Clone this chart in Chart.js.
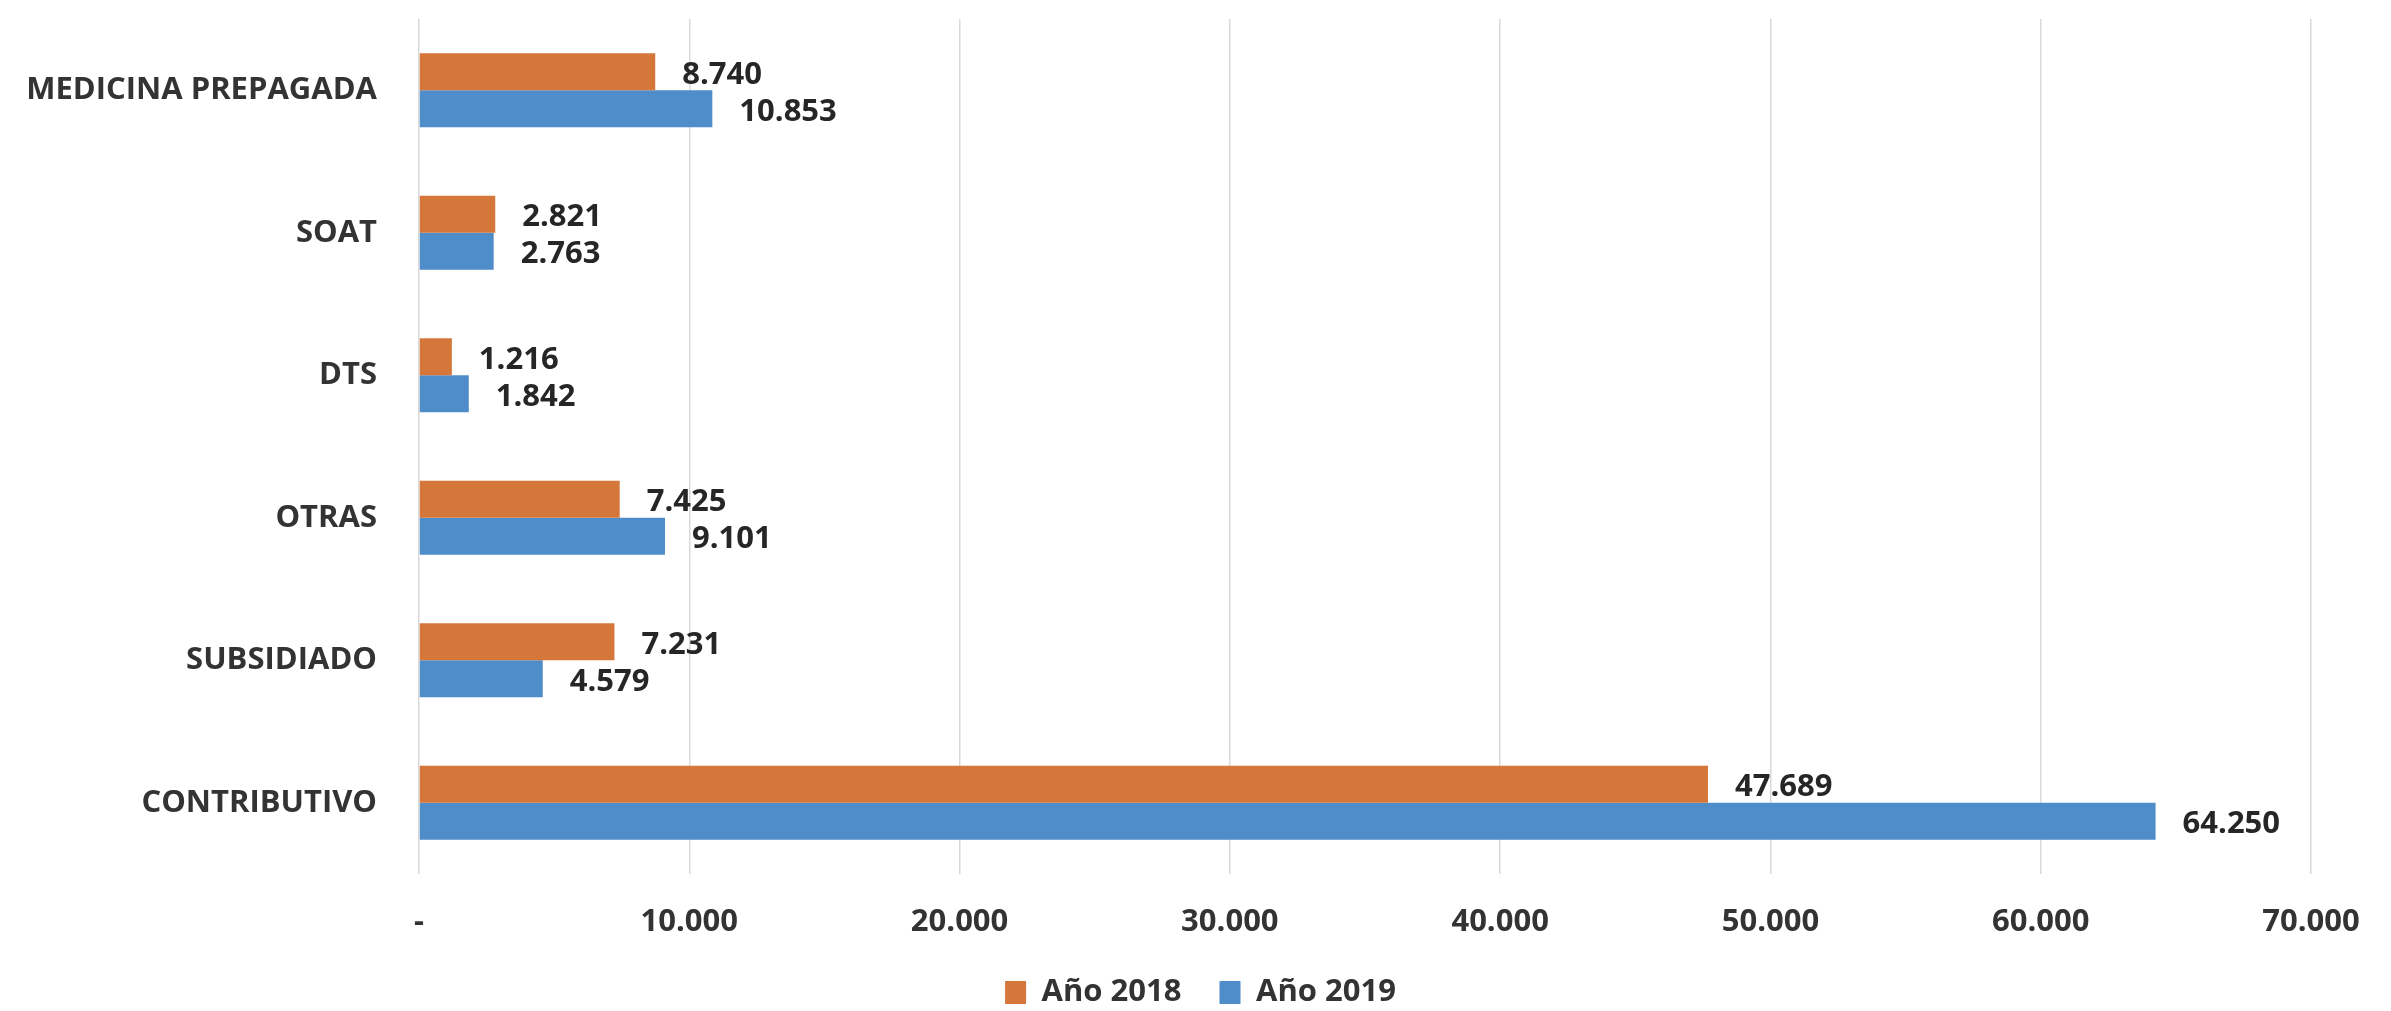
<!DOCTYPE html>
<html>
<head>
<meta charset="utf-8">
<script src="https://cdn.jsdelivr.net/npm/chart.js@4"></script>
<style>
  html, body { margin: 0; padding: 0; background: #fff; }
  #wrap { width: 2391px; height: 1011px; position: relative; }
</style>
</head>
<body>
<div id="wrap"><canvas id="chart"></canvas></div>
<script>
const categories = ['MEDICINA PREPAGADA', 'SOAT', 'DTS', 'OTRAS', 'SUBSIDIADO', 'CONTRIBUTIVO'];
const values2018 = [8740, 2821, 1216, 7425, 7231, 47689];
const values2019 = [10853, 2763, 1842, 9101, 4579, 64250];
const seriesNames = ['Año 2018', 'Año 2019'];
const xTicks = [0, 10000, 20000, 30000, 40000, 50000, 60000, 70000];

const FONT = '"Open Sans", "DejaVu Sans", sans-serif';

// 10000 -> "10.000", 0 -> "-"
const fmt = v => v === 0 ? '-' : String(v).replace(/\B(?=(\d{3})+(?!\d))/g, '.');

const valueLabels = {
    id: 'valueLabels',
    afterDatasetsDraw(chart) {
        const ctx = chart.ctx;
        ctx.save();
        ctx.font = 'bold 31px ' + FONT;
        ctx.fillStyle = '#262626';
        ctx.textAlign = 'left';
        ctx.textBaseline = 'middle';
        chart.data.datasets.forEach((ds, i) => {
            chart.getDatasetMeta(i).data.forEach((bar, j) => {
                ctx.fillText(fmt(ds.data[j]), bar.x + 27, bar.y + 3);
            });
        });
        ctx.restore();
    }
};

// nudge the legend a bit to the right, like the original
const legendShift = {
    id: 'legendShift',
    afterLayout(chart) {
        if (chart.legend) {
            chart.legend.left += 45;
            chart.legend.right += 45;
        }
    }
};

const ctx = document.getElementById('chart').getContext('2d');

new Chart(ctx, {
    type: 'bar',
    data: {
        labels: categories,
        datasets: [
            {
                label: seriesNames[0],
                data: values2018,
                backgroundColor: '#D5763A',
                borderWidth: 0
            },
            {
                label: seriesNames[1],
                data: values2019,
                backgroundColor: '#4F8DCA',
                borderWidth: 0
            }
        ]
    },
    options: {
        indexAxis: 'y',
        responsive: true,
        maintainAspectRatio: false,
        animation: false,
        devicePixelRatio: 1,
        datasets: {
            bar: { categoryPercentage: 0.52, barPercentage: 1 }
        },
        layout: {
            padding: { top: 19, right: 80, bottom: -7, left: 0 }
        },
        plugins: {
            legend: {
                position: 'bottom',
                labels: {
                    boxWidth: 21,
                    boxHeight: 23,
                    padding: 38,
                    color: '#333333',
                    font: { family: FONT, size: 31, weight: 'bold' }
                }
            },
            tooltip: { enabled: false }
        },
        scales: {
            x: {
                min: 0,
                max: 70000,
                afterBuildTicks: scale => {
                    scale.ticks = xTicks.map(v => ({ value: v }));
                },
                afterFit: scale => { scale.height = 65; },
                grid: { color: '#d9d9d9', lineWidth: 1.5, drawTicks: false },
                border: { display: false },
                ticks: {
                    padding: 30,
                    color: '#333333',
                    font: { family: FONT, size: 31, weight: 'bold' },
                    callback: v => fmt(v)
                }
            },
            y: {
                afterFit: scale => {
                    scale.width = 419;
                    scale.paddingTop = 0;
                    scale.paddingBottom = 0;
                },
                grid: { display: false, drawTicks: false },
                border: { display: false },
                ticks: {
                    padding: 42,
                    color: '#333333',
                    font: { family: FONT, size: 31, weight: 'bold' }
                }
            }
        }
    },
    plugins: [valueLabels, legendShift]
});
</script>
</body>
</html>
